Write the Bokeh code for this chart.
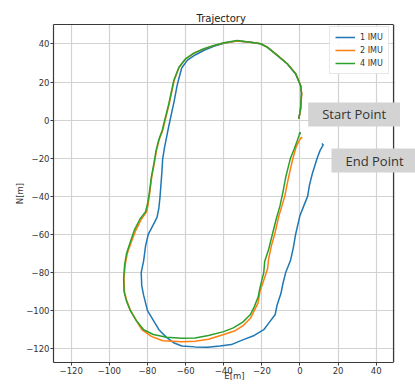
from bokeh.plotting import figure
from bokeh.models import Range1d, Label, FixedTicker, Legend, LinearAxis
from bokeh.embed import file_html
from bokeh.resources import INLINE

# 4 IMU (green)
e4 = [-0.6, 0.3, 0.8, 0.3, -2.3, -6.7, -11.9, -17.2, -20.7, -25.9, -32.9, -39.9, -45.2, -50.4, -55.7, -60.0, -63.5, -66.2, -68.8, -72.3,
      -74.0, -75.5, -76.5, -78.0, -79.0, -80.0, -81.0, -84.0, -87.0, -89.0, -91.0, -92.0, -92.5, -92.3, -91.0, -89.0, -86.0, -82.0,
      -77.0, -70.0, -62.0, -55.0, -48.0, -40.0, -35.0, -30.0, -26.0, -24.0, -22.0, -21.0, -20.0, -19.0, -18.5, -16.5, -14.5, -12.5,
      -10.5, -9.0, -7.5, -6.0, -5.0, -3.0, -1.5, -0.5, 0.0, 0.2]
n4 = [0.7, 6.0, 13.9, 18.2, 24.4, 29.6, 34.0, 38.3, 40.1, 40.9, 41.8, 40.6, 39.2, 37.5, 35.2, 32.2, 27.8, 20.8, 8.6, -5.4,
      -10.0, -16.0, -22.0, -30.0, -38.0, -44.0, -48.0, -52.0, -58.0, -64.0, -70.0, -76.0, -83.0, -90.0, -95.0, -100.0, -105.0, -110.0,
      -112.5, -114.0, -114.5, -114.3, -113.0, -111.0, -109.0, -106.0, -102.0, -98.0, -93.0, -88.0, -84.0, -80.0, -74.0, -68.0, -60.0, -52.0,
      -45.0, -38.0, -30.0, -24.0, -20.0, -15.0, -11.0, -8.0, -6.3, -7.5]

# 2 IMU (orange)
e2 = [-0.6, 0.4, 0.9, 0.4, -2.2, -6.6, -11.8, -17.1, -20.6, -25.9, -32.9, -39.9, -45.2, -50.4, -55.7, -60.0, -63.4, -66.0, -68.6, -72.0,
      -73.8, -75.3, -76.3, -77.8, -78.8, -79.6, -80.4, -83.2, -86.2, -88.5, -90.6, -91.7, -92.3, -92.1, -90.8, -88.8, -86.0, -83.0,
      -78.0, -72.0, -62.0, -55.0, -48.0, -40.0, -34.0, -30.0, -26.0, -24.0, -22.0, -21.0, -19.0, -17.0, -16.5, -15.0, -13.3, -11.0,
      -8.0, -6.0, -3.7, -2.0, -0.5, 0.7, 1.2]
n2 = [0.7, 6.0, 13.9, 18.2, 24.4, 29.6, 34.0, 38.3, 40.1, 40.9, 41.6, 40.5, 39.1, 37.4, 35.1, 32.1, 27.8, 20.8, 8.6, -5.4,
      -10.0, -16.0, -22.0, -30.0, -38.0, -44.0, -48.0, -52.0, -58.0, -64.0, -70.0, -76.0, -83.0, -90.0, -95.0, -100.0, -105.0, -110.0,
      -113.5, -115.8, -116.3, -116.0, -115.0, -112.5, -110.5, -108.0, -104.0, -100.0, -96.0, -90.0, -84.0, -78.0, -73.0, -66.0, -60.0, -50.0,
      -40.0, -30.0, -20.0, -14.0, -11.0, -9.0, -9.5]

# 1 IMU (blue)
e1 = [-0.6, 0.3, 0.8, 0.3, -2.3, -6.7, -11.9, -17.2, -20.7, -25.9, -32.9, -39.9, -45.2, -50.0, -55.0, -59.0, -62.0, -63.5, -64.5, -66.0,
      -67.5, -69.0, -70.0, -71.0, -72.0, -72.5, -73.4, -74.0, -75.0, -77.0, -79.6, -81.0, -82.0, -83.3, -83.0, -82.0, -80.0, -77.0,
      -74.0, -70.0, -66.0, -62.0, -55.0, -48.6, -42.0, -36.0, -30.0, -24.0, -19.0, -16.0, -13.0, -12.0, -10.0, -9.0, -7.5, -5.0,
      -3.5, -2.3, 0.0, 2.0, 4.0, 5.0, 6.5, 9.0, 10.5, 12.2, 11.5]
n1 = [0.7, 6.0, 13.9, 18.2, 24.4, 29.6, 34.0, 38.3, 40.1, 40.9, 41.6, 40.4, 38.8, 36.8, 34.2, 31.5, 27.5, 22.0, 18.0, 10.0,
      3.0, -4.0, -9.0, -14.0, -20.0, -28.0, -40.0, -46.0, -51.0, -55.0, -60.0, -66.0, -73.7, -80.0, -87.0, -92.0, -100.0, -105.0,
      -110.0, -114.0, -117.0, -118.5, -119.0, -119.2, -118.5, -117.8, -115.3, -113.0, -110.0, -106.0, -102.0, -97.0, -91.0, -86.0, -80.0, -73.7,
      -67.0, -60.0, -50.0, -45.0, -40.0, -34.0, -28.0, -20.0, -16.0, -13.0, -12.2]

series_labels = ["1 IMU", "2 IMU", "4 IMU"]
x_ticks = [-120, -100, -80, -60, -40, -20, 0, 20, 40]
y_ticks = [-120, -100, -80, -60, -40, -20, 0, 20, 40]
annotations = [("Start Point", 28.4, 3.0), ("End Point", 39.1, -21.2)]

X_LO, X_HI = -129.3, 49.1     # visible axes box
Y_LO, Y_HI = -127.2, 50.2
X_EXT = 60.6                  # canvas extends to the right so the labels can overflow the box

FONT = "DejaVu Sans"
TXT = "#333333"
EDGE = "#3a3a3a"

p = figure(width=415, height=387, output_backend="svg", toolbar_location=None,
           x_range=Range1d(X_LO, X_EXT), y_range=Range1d(Y_LO, Y_HI),
           title="Trajectory", min_border_left=53, min_border_right=0,
           min_border_top=24, min_border_bottom=25)
p.title.align = "left"
p.title.offset = 143
p.title.text_font = FONT
p.title.text_font_size = "10px"
p.title.text_font_style = "normal"
p.title.text_color = "#222222"
p.title.standoff = 2
p.outline_line_color = None

for ax, ticks, lab in ((p.xaxis[0], x_ticks, "E[m]"), (p.yaxis[0], y_ticks, "N[m]")):
    ax.ticker = FixedTicker(ticks=ticks)
    ax.axis_label = lab
    ax.axis_label_text_font = FONT
    ax.axis_label_text_font_size = "8.5px"
    ax.axis_label_text_font_style = "normal"
    ax.axis_label_text_color = TXT
    ax.major_label_text_font = FONT
    ax.major_label_text_font_size = "8.5px"
    ax.major_label_text_color = TXT
    ax.major_label_standoff = 1
    ax.major_tick_out = 3
    ax.major_tick_in = 0
    ax.minor_tick_out = 0
    ax.minor_tick_in = 0
    ax.axis_line_color = EDGE
    ax.axis_line_width = 1.2
    ax.major_tick_line_color = EDGE
p.xaxis[0].bounds = (X_LO, X_HI)
p.xaxis[0].axis_label_standoff = -6
p.yaxis[0].axis_label_standoff = -2

top = LinearAxis(bounds=(X_LO, X_HI), ticker=FixedTicker(ticks=[]), axis_line_color=EDGE,
                 axis_line_width=1.2, major_label_text_font_size="0px",
                 major_tick_out=0, major_tick_in=0, minor_tick_out=0, minor_tick_in=0)
p.add_layout(top, "above")

p.xgrid.ticker = FixedTicker(ticks=x_ticks)
p.ygrid.ticker = FixedTicker(ticks=y_ticks)
p.grid.grid_line_color = "#d2d2d2"
p.grid.grid_line_width = 1.2

# white area to the right of the axes box (a glyph, so it sits above the grid and below the edge line)
p.quad(left=[X_HI + 0.4], right=[X_EXT + 5], bottom=[Y_LO - 5], top=[Y_HI + 5],
       fill_color="white", fill_alpha=1.0, line_color=None)

# right edge of the axes box
p.segment(x0=[X_HI], y0=[Y_LO], x1=[X_HI], y1=[Y_HI], line_color=EDGE, line_width=1.3)

r1 = p.line(e1, n1, line_color="#1f77b4", line_width=1.5)
r2 = p.line(e2, n2, line_color="#ff7f0e", line_width=1.5)
r4 = p.line(e4, n4, line_color="#2ca02c", line_width=1.5)

legend = Legend(items=[(series_labels[0], [r1]), (series_labels[1], [r2]), (series_labels[2], [r4])],
                location=(276, 288))
legend.label_text_font = FONT
legend.label_text_font_size = "8px"
legend.label_text_color = TXT
legend.glyph_width = 20
legend.glyph_height = 10
legend.label_height = 10
legend.label_standoff = 5
legend.spacing = 3
legend.padding = 5
legend.margin = 0
legend.border_line_color = "#d0d0d0"
legend.border_line_width = 1
legend.background_fill_alpha = 0.9
p.add_layout(legend)

for txt, xx, yy in annotations:
    p.add_layout(Label(x=xx, y=yy, text=txt, text_align="center", text_baseline="middle",
                       text_font="Open Sans", text_font_size="13px", text_color=TXT,
                       background_fill_color="#d3d3d3", background_fill_alpha=1.0,
                       padding=(14, 14, 3, 3)))

open("out.html", "w").write(file_html(p, INLINE))
